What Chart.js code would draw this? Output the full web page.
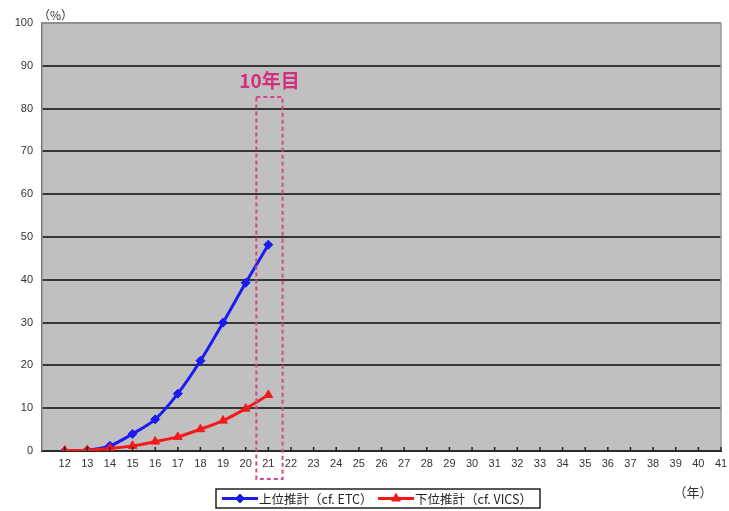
<!DOCTYPE html>
<html>
<head>
<meta charset="utf-8">
<script src="https://cdn.jsdelivr.net/npm/chart.js@4.4.1/dist/chart.umd.min.js"></script>
<style>
  html, body { margin: 0; padding: 0; background: #ffffff; }
  #wrap { width: 729px; height: 511px; }
</style>
</head>
<body>
<div id="wrap"><canvas id="c" width="729" height="511"></canvas></div>
<script>
// Year labels (平成), first slot is an empty category at the axis origin
const xLabels = ['', '12', '13', '14', '15', '16', '17', '18', '19', '20', '21', '22', '23', '24', '25', '26',
  '27', '28', '29', '30', '31', '32', '33', '34', '35', '36', '37', '38', '39', '40', '41'];

// Penetration estimates (%)
const upperEstimate = [null, 0.0, 0.2, 1.2, 4.0, 7.4, 13.4, 21.1, 30.0, 39.3, 48.2];
const lowerEstimate = [null, 0.1, 0.2, 0.6, 1.2, 2.2, 3.3, 5.1, 7.1, 9.9, 13.1];

const seriesNames = ['上位推計（cf. ETC）', '下位推計（cf. VICS）'];
const yTicks = [0, 10, 20, 30, 40, 50, 60, 70, 80, 90, 100];

// Highlighted year and the top of its marker box (in % units)
const highlightLabel = '21';
const highlightTop = 82.7;
const highlightText = '10年目';

const BLUE = '#1c1cf2';
const RED = '#f41a1a';
const PINK = '#d2307e';
const NUM_FONT = '"Liberation Sans", Arial, sans-serif';
const JP_FONT = '"Noto Sans CJK JP", "Noto Sans", sans-serif';

const chartDecor = {
  id: 'chartDecor',
  beforeDraw(chart) {
    const { ctx, chartArea: a } = chart;
    ctx.save();
    ctx.fillStyle = '#c0c0c0';
    ctx.fillRect(a.left, a.top, a.right - a.left, a.bottom - a.top);
    ctx.restore();
  },
  afterDatasetsDraw(chart) {
    const { ctx, chartArea: a, scales } = chart;
    const x = scales.x, y = scales.y;
    ctx.save();
    // right frame edge
    ctx.strokeStyle = '#9a9a9a';
    ctx.lineWidth = 1.5;
    ctx.beginPath();
    ctx.moveTo(a.right, a.top);
    ctx.lineTo(a.right, a.bottom);
    ctx.stroke();

    // short inward tick marks on the category axis
    ctx.strokeStyle = '#222';
    ctx.lineWidth = 1.5;
    for (let i = 1; i < xLabels.length; i++) {
      const px = x.getPixelForValue(i);
      ctx.beginPath();
      ctx.moveTo(px, a.bottom);
      ctx.lineTo(px, a.bottom - 4);
      ctx.stroke();
    }

    // dashed box around the highlighted year
    const hi = xLabels.indexOf(highlightLabel);
    const step = x.getPixelForValue(1) - x.getPixelForValue(0);
    const cx = x.getPixelForValue(hi);
    const left = cx - step * 0.53, right = cx + step * 0.63;
    const top = y.getPixelForValue(highlightTop);
    const bottom = a.bottom + 28;
    ctx.strokeStyle = '#d4478a';
    ctx.lineWidth = 2;
    ctx.setLineDash([4, 3]);
    ctx.strokeRect(left, top, right - left, bottom - top);
    ctx.setLineDash([]);

    ctx.fillStyle = PINK;
    ctx.font = 'bold 19px ' + JP_FONT;
    ctx.textAlign = 'center';
    ctx.textBaseline = 'alphabetic';
    ctx.fillText(highlightText, (left + right) / 2, top - 9);
    ctx.restore();
  },
  afterDraw(chart) {
    const { ctx, chartArea: a } = chart;
    ctx.save();
    // unit captions
    ctx.fillStyle = '#333';
    ctx.font = '12px ' + JP_FONT;
    ctx.textBaseline = 'middle';
    ctx.textAlign = 'left';
    ctx.fillText('（%）', a.left - 4, 15);
    ctx.textAlign = 'center';
    ctx.font = '13px ' + JP_FONT;
    ctx.fillText('（年）', a.right - 28, 492);

    // legend
    const ds = chart.data.datasets;
    const bx = 216, by = 489, bw = 324, bh = 19;
    ctx.fillStyle = '#ffffff';
    ctx.fillRect(bx, by, bw, bh);
    ctx.strokeStyle = '#222';
    ctx.lineWidth = 1.5;
    ctx.strokeRect(bx, by, bw, bh);
    const cy = by + bh / 2;
    const items = [{ x: 222, tx: 259 }, { x: 378, tx: 415 }];
    items.forEach((it, i) => {
      const d = ds[i];
      ctx.strokeStyle = d.borderColor;
      ctx.fillStyle = d.backgroundColor;
      ctx.lineWidth = 3;
      ctx.beginPath();
      ctx.moveTo(it.x, cy);
      ctx.lineTo(it.x + 36, cy);
      ctx.stroke();
      ctx.lineWidth = 1;
      Chart.helpers.drawPoint(ctx, {
        pointStyle: d.pointStyle, radius: d.pointRadius, rotation: 0, borderWidth: 1
      }, it.x + 18, cy);
      ctx.fillStyle = '#222';
      ctx.font = '12.5px ' + JP_FONT;
      ctx.textAlign = 'left';
      ctx.textBaseline = 'middle';
      ctx.fillText(seriesNames[i], it.tx, cy + 0.5);
    });
    ctx.restore();
  }
};

new Chart(document.getElementById('c'), {
  type: 'line',
  data: {
    labels: xLabels,
    datasets: [
      {
        label: seriesNames[0],
        data: upperEstimate,
        borderColor: BLUE,
        backgroundColor: BLUE,
        borderWidth: 3,
        pointStyle: 'rectRot',
        pointRadius: 4.5,
        pointBorderWidth: 1,
        tension: 0.3,
        order: 1
      },
      {
        label: seriesNames[1],
        data: lowerEstimate,
        borderColor: RED,
        backgroundColor: RED,
        borderWidth: 3,
        pointStyle: 'triangle',
        pointRadius: 5,
        pointBorderWidth: 1,
        tension: 0.3,
        order: 0
      }
    ]
  },
  options: {
    responsive: false,
    animation: false,
    layout: { padding: { top: 23, right: 8, left: 0, bottom: 40 } },
    plugins: {
      legend: { display: false },
      tooltip: { enabled: false }
    },
    scales: {
      x: {
        offset: false,
        grid: { display: false, drawTicks: false },
        border: { display: true, color: '#2a2a2a', width: 2 },
        ticks: {
          padding: 6,
          autoSkip: false,
          maxRotation: 0,
          color: '#333',
          font: { family: NUM_FONT, size: 11 }
        },
        afterFit(s) { s.height = 20; s.paddingLeft = 0; s.paddingRight = 0; }
      },
      y: {
        min: 0,
        max: 100,
        afterBuildTicks(s) { s.ticks = yTicks.map(v => ({ value: v })); },
        grid: {
          drawTicks: false,
          color: c => (c.tick && c.tick.value === 100 ? '#8e8e8e' : '#363636'),
          lineWidth: c => (c.tick && c.tick.value === 0 ? 0 : 2)
        },
        border: { display: true, color: '#7a7a7a', width: 1.5 },
        ticks: {
          padding: 9,
          color: '#333',
          font: { family: NUM_FONT, size: 11 }
        },
        afterFit(s) { s.width = 42; }
      }
    }
  },
  plugins: [chartDecor]
});
</script>
</body>
</html>
